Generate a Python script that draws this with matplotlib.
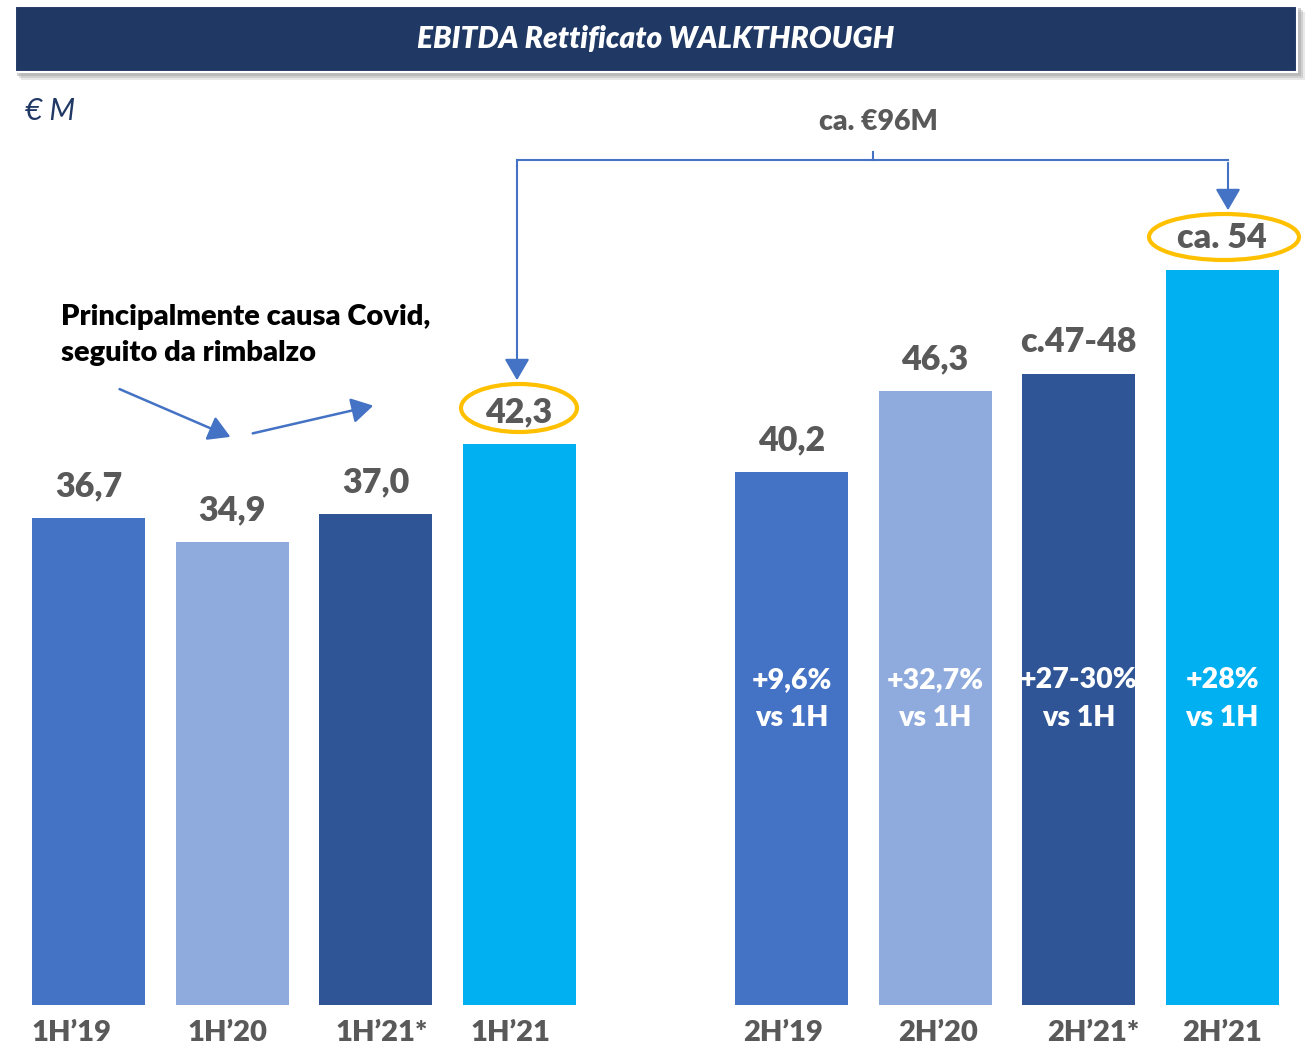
import matplotlib
matplotlib.use("Agg")
import matplotlib.pyplot as plt
from matplotlib.patches import Rectangle, Ellipse, FancyArrowPatch

plt.rcParams['font.family'] = ['Lato', 'DejaVu Sans']

categories = ["1H’19", "1H’20", "1H’21*", "1H’21", "2H’19", "2H’20", "2H’21*", "2H’21"]
values = [36.7, 34.9, 37.0, 42.3, 40.2, 46.3, 47.6, 55.4]
value_labels = ["36,7", "34,9", "37,0", "42,3", "40,2", "46,3", "c.47-48", "ca. 54"]
inner_labels = ["", "", "", "", "+9,6%\nvs 1H", "+32,7%\nvs 1H", "+27-30%\nvs 1H", "+28%\nvs 1H"]
positions = [0, 1, 2, 3, 4.9, 5.9, 6.9, 7.9]
label_dx = [-0.12, -0.03, 0.04, -0.06, -0.06, 0.02, 0.1, 0.0]
colors = ["#4472C4", "#8FAADC", "#2F5597", "#00B0F0"] * 2

W, H = 1307, 1048
fig = plt.figure(figsize=(W / 100, H / 100), dpi=100)
ax = fig.add_axes([0, 0, 1, 1])
pxu = 13.26  # pixels per unit on y
pxx = 143.5  # pixels per unit on x
ax.set_ylim(-43 / pxu, (H - 43) / pxu)
ax.set_xlim(-88.5 / pxx, (W - 88.5) / pxx)
ax.axis("off")

def px(x, y):
    """pixel (from top-left) -> data coords"""
    return (x - 88.5) / pxx, (H - 43 - y) / pxu

BOLD = 800
bw = 113 / pxx
ax.bar(positions, values, width=bw, color=colors, zorder=2)

gray = "#595959"
for p, v, lab in zip(positions, values, value_labels):
    ax.text(p, v + 32 / pxu, lab, ha="center", va="center", fontsize=24.5,
            fontweight=BOLD, color=gray, zorder=5)
for p, d, lab in zip(positions, label_dx, categories):
    ax.text(p + d, -28 / pxu, lab, ha="center", va="center", fontsize=21,
            fontweight=BOLD, color=gray)
for p, v, lab in zip(positions, values, inner_labels):
    if lab:
        ax.text(p, px(0, 699)[1], lab, ha="center", va="center", fontsize=20.5,
                fontweight=BOLD, color="white", linespacing=1.6, zorder=5)

# Title bar
trans = fig.transFigure
def fr(x, y, w, h):
    return (x / W, 1 - (y + h) / H, w / W, h / H)
for i, a in enumerate([0.25, 0.35, 0.5]):
    sx, sy, sw, sh = fr(17 + 2 * (2 - i), 8 + 2 * (2 - i), 1284, 68)
    fig.patches.append(Rectangle((sx, sy), sw, sh, transform=trans, color="#A6A6A6",
                                 alpha=a, zorder=0, lw=0))
bx, by, bwid, bh = fr(15, 6, 1282, 66)
fig.patches.append(Rectangle((bx, by), bwid, bh, transform=trans, facecolor="#203864",
                             edgecolor="white", lw=1.5, zorder=1))
fig.text(656 / W, 1 - 39 / H, "EBITDA Rettificato WALKTHROUGH", ha="center", va="center",
         color="white", fontsize=21.5, fontweight=BOLD, fontstyle="italic")
fig.text(25 / W, 1 - 111 / H, "€ M", ha="left", va="center", color="#203864",
         fontsize=21.5, fontstyle="italic")

# Annotation text
ax.text(*px(61, 335), "Principalmente causa Covid,\nseguito da rimbalzo", ha="left",
        va="center", fontsize=21, fontweight=BOLD, color="black", linespacing=1.5)
blue = "#4472C4"
for (x0, y0), (x1, y1) in [((117, 388), (233, 438)), ((250, 434), (376, 405))]:
    ax.add_patch(FancyArrowPatch(px(x0, y0), px(x1, y1), arrowstyle="-|>,head_length=6,head_width=3.5",
                                 color=blue, lw=1.8, mutation_scale=2.2, zorder=3))

# Bracket
ax.plot(*zip(px(517, 160), px(1228, 160)), color=blue, lw=1.5)
ax.plot(*zip(px(873, 160), px(873, 152)), color=blue, lw=1.5)
ax.plot(*zip(px(517, 160), px(517, 166)), color=blue, lw=1.5)
ax.add_patch(FancyArrowPatch(px(517, 163), px(517, 383), arrowstyle="-|>,head_length=6,head_width=3.5",
                             color=blue, lw=1.5, mutation_scale=2.2))
ax.add_patch(FancyArrowPatch(px(1228, 160), px(1228, 213), arrowstyle="-|>,head_length=6,head_width=3.5",
                             color=blue, lw=1.5, mutation_scale=2.2))
ax.text(*px(878, 122), "ca. €96M", ha="center", va="center", fontsize=20.5,
        fontweight=BOLD, color=gray)

# Ellipses
for (cx, cy), (ew, eh) in [((519, 408), (116, 48)), ((1224, 237), (150, 46))]:
    c = px(cx, cy)
    ax.add_patch(Ellipse(c, ew / pxx, eh / pxu, fill=False, edgecolor="#FFC000", lw=3, zorder=4))

fig.savefig("out.png", dpi=100)
